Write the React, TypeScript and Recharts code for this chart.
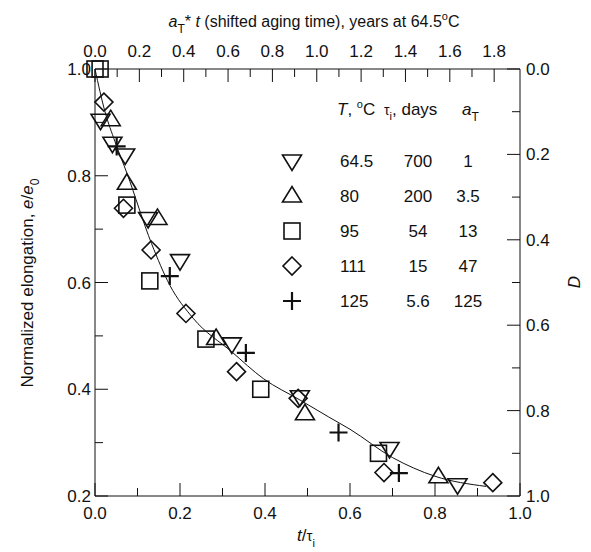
import {
  ComposedChart,
  Label,
  Line,
  Scatter,
  XAxis,
  YAxis,
} from 'recharts';

// t/tau_i vs normalized elongation
const t645 = [0.013, 0.041, 0.071, 0.125, 0.2, 0.322, 0.482, 0.693, 0.853];
const e645 = [0.904, 0.861, 0.839, 0.72, 0.641, 0.485, 0.386, 0.289, 0.221];

const t80 = [0.037, 0.075, 0.147, 0.285, 0.494, 0.808];
const e80 = [0.905, 0.786, 0.72, 0.495, 0.354, 0.236];

const t95 = [0.0, 0.012, 0.075, 0.129, 0.261, 0.39, 0.667];
const e95 = [1.0, 1.0, 0.745, 0.603, 0.494, 0.4, 0.28];

const t111 = [0.021, 0.067, 0.132, 0.214, 0.333, 0.478, 0.68, 0.936];
const e111 = [0.938, 0.739, 0.661, 0.542, 0.433, 0.383, 0.244, 0.225];

const t125 = [0.051, 0.176, 0.355, 0.573, 0.715];
const e125 = [0.855, 0.612, 0.468, 0.319, 0.243];

// fitted curve
const fitT = [0, 0.0235, 0.047, 0.075, 0.133, 0.176, 0.231, 0.322, 0.396, 0.482, 0.55, 0.6, 0.7, 0.8, 0.92];
const fitE = [1.0, 0.92, 0.864, 0.805, 0.673, 0.595, 0.533, 0.47, 0.42, 0.38, 0.348, 0.325, 0.272, 0.237, 0.218];

// legend table
const legendT = ['64.5', '80', '95', '111', '125'];
const legendTau = ['700', '200', '54', '15', '5.6'];
const legendAT = ['1', '3.5', '13', '47', '125'];

// axes
const bottomTicks = [0, 0.1, 0.2, 0.3, 0.4, 0.5, 0.6, 0.7, 0.8, 0.9, 1.0];
const topTicks = [0, 0.1, 0.2, 0.3, 0.4, 0.5, 0.6, 0.7, 0.8, 0.9, 1.0, 1.1, 1.2, 1.3, 1.4, 1.5, 1.6, 1.7, 1.8];
const leftTicks = [0.2, 0.3, 0.4, 0.5, 0.6, 0.7, 0.8, 0.9, 1.0];
const rightTicks = [0, 0.1, 0.2, 0.3, 0.4, 0.5, 0.6, 0.7, 0.8, 0.9, 1.0];
const topMax = 700 / 365.25; // tau_i at 64.5 C, in years

const FONT = 'Liberation Sans, Arial, sans-serif';
const INK = '#111';
const MAJOR = 13;
const MINOR = 8;

const pts = (xs: number[], ys: number[]) => xs.map((x, i) => ({ x, y: ys[i] }));

const isMajor = (v: number) => Math.round(v * 10) % 2 === 0;

function DownTri({ cx, cy }: any) {
  return (
    <path
      d={`M${cx - 9.5},${cy - 6} L${cx + 9.5},${cy - 6} L${cx},${cy + 9.5} Z`}
      fill="none"
      stroke={INK}
      strokeWidth={1.6}
    />
  );
}

function UpTri({ cx, cy }: any) {
  return (
    <path
      d={`M${cx - 9.5},${cy + 6} L${cx + 9.5},${cy + 6} L${cx},${cy - 9.5} Z`}
      fill="none"
      stroke={INK}
      strokeWidth={1.6}
    />
  );
}

function Sq({ cx, cy }: any) {
  return <rect x={cx - 8} y={cy - 8} width={16} height={16} fill="none" stroke={INK} strokeWidth={1.6} />;
}

function Dia({ cx, cy }: any) {
  return (
    <path
      d={`M${cx},${cy - 9} L${cx + 9},${cy} L${cx},${cy + 9} L${cx - 9},${cy} Z`}
      fill="none"
      stroke={INK}
      strokeWidth={1.6}
    />
  );
}

function Plus({ cx, cy }: any) {
  return (
    <path
      d={`M${cx - 9},${cy} L${cx + 9},${cy} M${cx},${cy - 9} L${cx},${cy + 9}`}
      fill="none"
      stroke={INK}
      strokeWidth={2.2}
    />
  );
}

const markers = [DownTri, UpTri, Sq, Dia, Plus];

const textProps = { fontFamily: FONT, fontSize: 17, fill: INK };

function BottomTick({ x, y, payload }: any) {
  const v = payload.value;
  const m = isMajor(v);
  return (
    <g>
      <line x1={x} y1={y} x2={x} y2={y - (m ? MAJOR : MINOR)} stroke={INK} />
      {m && (
        <text x={x} y={y + 23} textAnchor="middle" {...textProps}>
          {v.toFixed(1)}
        </text>
      )}
    </g>
  );
}

function TopTick({ x, y, payload }: any) {
  const v = payload.value;
  const m = isMajor(v);
  return (
    <g>
      <line x1={x} y1={y} x2={x} y2={y + (m ? MAJOR : MINOR)} stroke={INK} />
      {m && (
        <text x={x} y={y - 12} textAnchor="middle" {...textProps}>
          {v.toFixed(1)}
        </text>
      )}
    </g>
  );
}

function LeftTick({ x, y, payload }: any) {
  const v = payload.value;
  const m = isMajor(v);
  return (
    <g>
      <line x1={x} y1={y} x2={x + (m ? MAJOR : MINOR)} y2={y} stroke={INK} />
      {m && (
        <text x={x - 4} y={y + 6} textAnchor="end" {...textProps}>
          {v.toFixed(1)}
        </text>
      )}
    </g>
  );
}

function RightTick({ x, y, payload }: any) {
  const v = payload.value;
  const m = isMajor(v);
  return (
    <g>
      <line x1={x} y1={y} x2={x - (m ? MAJOR : MINOR)} y2={y} stroke={INK} />
      {m && (
        <text x={x + 6} y={y + 6} textAnchor="start" {...textProps}>
          {v.toFixed(1)}
        </text>
      )}
    </g>
  );
}

function LegendTable() {
  const rowY = (i: number) => 161 + i * 35;
  return (
    <g>
      <text x={337} y={115} {...textProps}>
        <tspan fontStyle="italic">T</tspan>
        <tspan>, </tspan>
        <tspan fontSize={11} dy={-7}>o</tspan>
        <tspan dy={7}>C</tspan>
      </text>
      <text x={384} y={115} {...textProps}>
        <tspan fontSize={14}>τ</tspan>
        <tspan fontSize={11} dy={5}>i</tspan>
        <tspan dy={-5}>, days</tspan>
      </text>
      <text x={462} y={115} {...textProps}>
        <tspan fontStyle="italic">a</tspan>
        <tspan fontSize={12} dy={6}>T</tspan>
      </text>
      {legendT.map((t, i) => {
        const M = markers[i];
        return (
          <g key={t}>
            <M cx={292} cy={rowY(i)} />
            <text x={340} y={rowY(i) + 6} {...textProps}>
              {t}
            </text>
            <text x={418} y={rowY(i) + 6} textAnchor="middle" {...textProps}>
              {legendTau[i]}
            </text>
            <text x={468} y={rowY(i) + 6} textAnchor="middle" {...textProps}>
              {legendAT[i]}
            </text>
          </g>
        );
      })}
    </g>
  );
}

export default function App() {
  const series = [
    pts(t645, e645),
    pts(t80, e80),
    pts(t95, e95),
    pts(t111, e111),
    pts(t125, e125),
  ];
  return (
    <div style={{ position: 'absolute', left: 0, top: 0, background: '#fff' }}>
      <ComposedChart
        width={591}
        height={552}
        margin={{ top: 29, right: 11, bottom: 16, left: 35 }}
      >
        <XAxis
          xAxisId="b"
          dataKey="x"
          type="number"
          orientation="bottom"
          domain={[0, 1]}
          ticks={bottomTicks}
          interval={0}
          height={40}
          tickSize={0}
          tickMargin={0}
          tickLine={false}
          axisLine={{ stroke: INK }}
          tick={<BottomTick />}
        >
          <Label
            content={() => (
              <text x={306} y={541} textAnchor="middle" {...textProps}>
                <tspan fontStyle="italic">t</tspan>
                <tspan>/</tspan>
                <tspan fontSize={15}>τ</tspan>
                <tspan fontSize={11} dy={6}>i</tspan>
              </text>
            )}
          />
        </XAxis>
        <XAxis
          xAxisId="t"
          dataKey="x"
          type="number"
          orientation="top"
          domain={[0, topMax]}
          allowDataOverflow
          ticks={topTicks}
          interval={0}
          height={40}
          tickSize={0}
          tickMargin={0}
          tickLine={false}
          axisLine={{ stroke: INK }}
          tick={<TopTick />}
        >
          <Label
            content={() => (
              <text x={314} y={27} textAnchor="middle" {...textProps} fontSize={16}>
                <tspan fontStyle="italic">a</tspan>
                <tspan fontSize={12} dy={6}>T</tspan>
                <tspan dy={-6}>* </tspan>
                <tspan fontStyle="italic">t</tspan>
                <tspan> (shifted aging time), years at 64.5</tspan>
                <tspan fontSize={11} dy={-7}>o</tspan>
                <tspan dy={7}>C</tspan>
              </text>
            )}
          />
        </XAxis>
        <YAxis
          yAxisId="l"
          dataKey="y"
          type="number"
          orientation="left"
          domain={[0.2, 1]}
          ticks={leftTicks}
          interval={0}
          width={60}
          tickSize={0}
          tickMargin={0}
          tickLine={false}
          axisLine={{ stroke: INK }}
          tick={<LeftTick />}
        >
          <Label
            content={() => (
              <text x={33} y={283} textAnchor="middle" transform="rotate(-90 33 283)" {...textProps}>
                <tspan>Normalized elongation, </tspan>
                <tspan fontStyle="italic">e</tspan>
                <tspan>/</tspan>
                <tspan fontStyle="italic">e</tspan>
                <tspan fontSize={12} dy={6}>0</tspan>
              </text>
            )}
          />
        </YAxis>
        <YAxis
          yAxisId="r"
          dataKey="y"
          type="number"
          orientation="right"
          domain={[0, 1]}
          reversed
          allowDataOverflow
          ticks={rightTicks}
          interval={0}
          width={60}
          tickSize={0}
          tickMargin={0}
          tickLine={false}
          axisLine={{ stroke: INK }}
          tick={<RightTick />}
        >
          <Label
            content={() => (
              <g>
                <text x={580} y={282} textAnchor="middle" transform="rotate(-90 580 282)" fontStyle="italic" {...textProps}>
                  D
                </text>
                <LegendTable />
              </g>
            )}
          />
        </YAxis>
        <Line
          xAxisId="b"
          yAxisId="l"
          data={pts(fitT, fitE)}
          dataKey="y"
          type="monotone"
          stroke={INK}
          strokeWidth={1}
          dot={false}
          activeDot={false}
          isAnimationActive={false}
        />
        {series.map((d, i) => {
          const M = markers[i];
          return (
            <Scatter
              key={i}
              xAxisId="b"
              yAxisId="l"
              data={d}
              dataKey="y"
              shape={(p: any) => <M cx={p.cx} cy={p.cy} />}
              isAnimationActive={false}
            />
          );
        })}
      </ComposedChart>
    </div>
  );
}
